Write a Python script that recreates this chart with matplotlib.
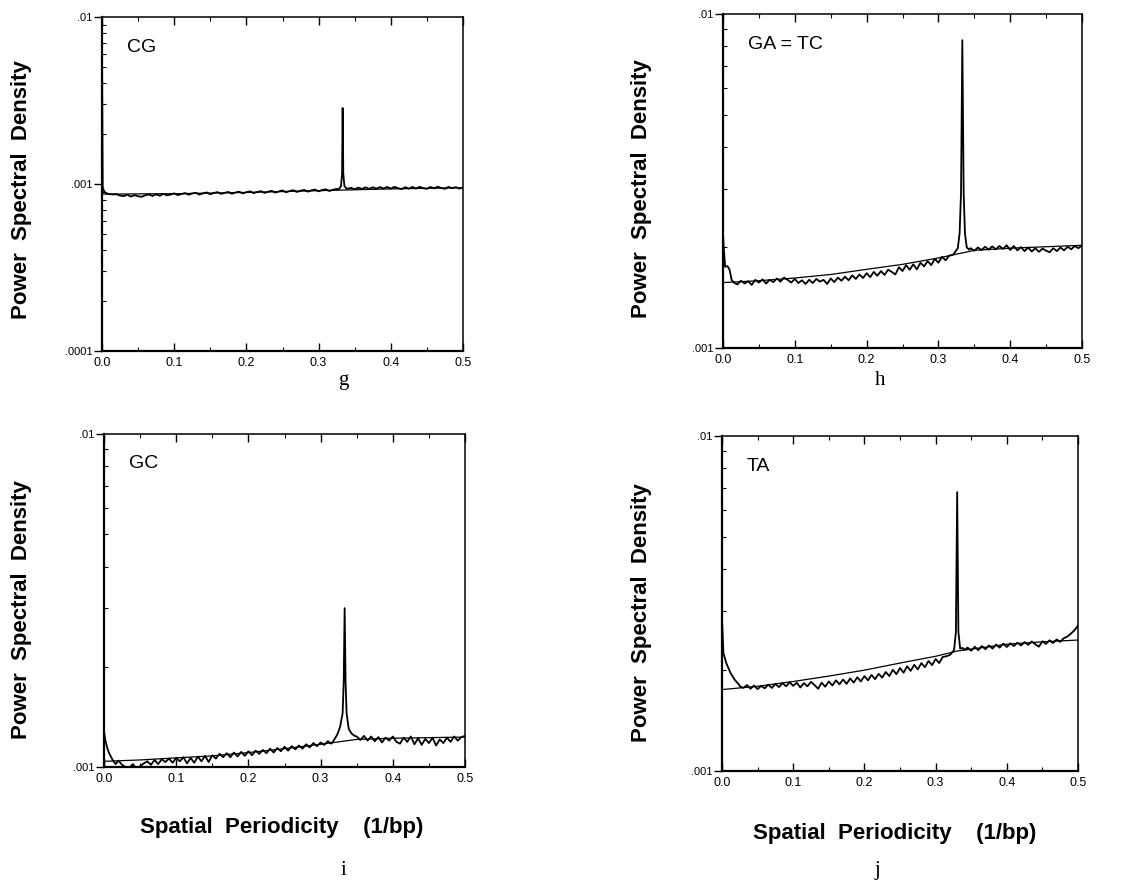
"""
Power spectral density of dinucleotide spacing (panels g-j).
Values read off the scanned figure, in units of 1e-3.
"""
import numpy as np
import matplotlib
matplotlib.use('Agg')
import matplotlib.pyplot as plt
from matplotlib.ticker import FixedLocator, FixedFormatter, MultipleLocator, NullFormatter, LogLocator

#-----------------------------------------------------------------------------
## Data (PSD x 1e-3)
#-----------------------------------------------------------------------------
# common frequency grid for the noisy traces (1/bp)
GRID = np.round(np.arange(0.02, 0.5001, 0.005), 3)

# --- g : CG
g_smooth_x = [0.0, 0.1, 0.2, 0.3, 0.4, 0.5]
g_smooth_y = [0.87, 0.875, 0.89, 0.912, 0.935, 0.95]
g_head_x = [0.0, 0.001, 0.003, 0.006, 0.01, 0.015]
g_head_y = [6.3, 0.96, 0.9, 0.88, 0.87, 0.866]
g_peak_x = [0.328, 0.331, 0.3325, 0.3333, 0.3342, 0.3358, 0.339]
g_peak_y = [0.93, 0.97, 1.15, 2.85, 1.15, 0.97, 0.935]
g_noise_y = [0.868, 0.852, 0.846, 0.862, 0.841, 0.858, 0.845, 0.838, 0.856, 0.866,
             0.848, 0.868, 0.85, 0.874, 0.855, 0.864, 0.879, 0.858, 0.87, 0.882,
             0.862, 0.878, 0.885, 0.864, 0.879, 0.89, 0.868, 0.884, 0.894, 0.872,
             0.886, 0.896, 0.874, 0.89, 0.9, 0.878, 0.893, 0.904, 0.882, 0.896,
             0.906, 0.884, 0.899, 0.91, 0.888, 0.903, 0.915, 0.892, 0.908, 0.918,
             0.896, 0.912, 0.922, 0.9, 0.916, 0.926, 0.904, 0.921, 0.93, 0.908,
             0.924, 0.934, 0.93, 0.935, 0.938, 0.948, 0.93, 0.952, 0.934, 0.955,
             0.935, 0.956, 0.938, 0.958, 0.94, 0.96, 0.938, 0.962, 0.944, 0.932,
             0.957, 0.938, 0.96, 0.94, 0.962, 0.944, 0.935, 0.96, 0.941, 0.964,
             0.945, 0.936, 0.961, 0.942, 0.958, 0.938, 0.952]

# --- h : GA = TC
h_smooth_x = [0.0, 0.05, 0.1, 0.15, 0.2, 0.25, 0.3, 0.35, 0.4, 0.45, 0.5]
h_smooth_y = [1.57, 1.59, 1.62, 1.66, 1.72, 1.78, 1.86, 1.96, 1.99, 2.01, 2.03]
h_head_x = [0.0, 0.001, 0.003, 0.006, 0.009, 0.012, 0.016]
h_head_y = [2.2, 2.0, 1.75, 1.76, 1.72, 1.6, 1.565]
h_peak_x = [0.322, 0.327, 0.3295, 0.3315, 0.3333, 0.3352, 0.337, 0.3395, 0.343]
h_peak_y = [1.92, 1.99, 2.2, 2.9, 8.35, 2.9, 2.2, 2.0, 1.97]
h_noise_y = [1.55, 1.59, 1.56, 1.585, 1.545, 1.6, 1.57, 1.605, 1.56, 1.6,
             1.575, 1.615, 1.58, 1.625, 1.6, 1.57, 1.61, 1.565, 1.595, 1.555,
             1.6, 1.565, 1.61, 1.58, 1.6, 1.555, 1.615, 1.575, 1.625, 1.59,
             1.635, 1.595, 1.65, 1.61, 1.66, 1.62, 1.675, 1.63, 1.69, 1.645,
             1.7, 1.655, 1.715, 1.69, 1.66, 1.745, 1.7, 1.77, 1.715, 1.78,
             1.72, 1.8, 1.755, 1.82, 1.77, 1.85, 1.8, 1.875, 1.83, 1.89,
             1.9, 1.94, 1.95, 1.96, 1.97, 1.99, 1.955, 2.0, 1.965, 2.01,
             1.97, 2.015, 1.975, 2.02, 1.98, 2.03, 1.965, 2.02, 1.96, 2.005,
             1.95, 2.0, 1.945, 1.99, 1.94, 1.985, 1.955, 1.935, 1.99, 1.95,
             2.0, 1.96, 2.01, 1.975, 2.02, 1.99, 2.03]

# --- i : GC
i_smooth_x = [0.0, 0.05, 0.1, 0.15, 0.2, 0.25, 0.3, 0.35, 0.4, 0.5]
i_smooth_y = [1.04, 1.05, 1.065, 1.08, 1.105, 1.135, 1.17, 1.21, 1.22, 1.23]
i_head_x = [0.0, 0.002, 0.005, 0.008, 0.012, 0.016]
i_head_y = [1.28, 1.2, 1.13, 1.09, 1.05, 1.02]
i_peak_x = [0.318, 0.323, 0.327, 0.3305, 0.332, 0.3333, 0.3346, 0.336, 0.339, 0.343, 0.347]
i_peak_y = [1.2, 1.25, 1.32, 1.45, 1.8, 3.0, 1.8, 1.45, 1.3, 1.26, 1.24]
i_noise_y = [1.045, 1.015, 1.0, 0.995, 1.02, 0.99, 1.005, 1.025, 1.04, 1.015,
             1.05, 1.02, 1.055, 1.035, 1.06, 1.03, 1.065, 1.04, 1.07, 1.025,
             1.065, 1.03, 1.075, 1.04, 1.08, 1.035, 1.085, 1.06, 1.095, 1.07,
             1.1, 1.07, 1.105, 1.075, 1.11, 1.08, 1.115, 1.085, 1.12, 1.095,
             1.125, 1.1, 1.135, 1.105, 1.14, 1.115, 1.15, 1.12, 1.155, 1.13,
             1.16, 1.135, 1.17, 1.145, 1.18, 1.155, 1.185, 1.165, 1.195, 1.175,
             1.2, 1.23, 1.3, 1.3, 1.28, 1.25, 1.235, 1.205, 1.24, 1.2,
             1.235, 1.195, 1.23, 1.185, 1.225, 1.2, 1.235, 1.19, 1.175, 1.225,
             1.19, 1.235, 1.17, 1.22, 1.165, 1.215, 1.18, 1.225, 1.16, 1.21,
             1.18, 1.225, 1.19, 1.235, 1.2, 1.23, 1.24]

# --- j : TA
j_smooth_x = [0.0, 0.05, 0.1, 0.15, 0.2, 0.25, 0.3, 0.33, 0.4, 0.45, 0.5]
j_smooth_y = [1.75, 1.79, 1.85, 1.92, 2.0, 2.1, 2.2, 2.28, 2.39, 2.43, 2.46]
j_head_x = [0.0, 0.002, 0.006, 0.012, 0.018, 0.024]
j_head_y = [2.85, 2.25, 2.1, 1.96, 1.87, 1.81]
j_peak_x = [0.322, 0.326, 0.3285, 0.3303, 0.332, 0.3345, 0.338]
j_peak_y = [2.24, 2.3, 2.6, 6.8, 2.6, 2.32, 2.33]
j_noise_y = [1.82, 1.79, 1.77, 1.805, 1.76, 1.8, 1.755, 1.795, 1.765, 1.81,
             1.77, 1.82, 1.78, 1.83, 1.79, 1.84, 1.795, 1.835, 1.775, 1.83,
             1.79, 1.845, 1.805, 1.76, 1.835, 1.785, 1.85, 1.8, 1.865, 1.815,
             1.875, 1.82, 1.89, 1.835, 1.905, 1.85, 1.92, 1.865, 1.935, 1.88,
             1.95, 1.9, 1.975, 1.92, 2.005, 1.945, 2.03, 1.965, 2.055, 1.99,
             2.075, 2.01, 2.1, 2.04, 2.13, 2.07, 2.16, 2.1, 2.19, 2.2,
             2.22, 2.28, 2.3, 2.3, 2.3, 2.335, 2.285, 2.35, 2.295, 2.36,
             2.31, 2.37, 2.32, 2.385, 2.335, 2.4, 2.345, 2.405, 2.36, 2.415,
             2.37, 2.425, 2.38, 2.435, 2.39, 2.35, 2.44, 2.395, 2.455, 2.41,
             2.47, 2.43, 2.49, 2.52, 2.57, 2.63, 2.72]

labels = ['CG', 'GA = TC', 'GC', 'TA']
letters = ['g', 'h', 'i', 'j']
ylims = [(1e-4, 1e-2), (1e-3, 1e-2), (1e-3, 1e-2), (1e-3, 1e-2)]
ytick_vals = [[1e-4, 1e-3, 1e-2], [1e-3, 1e-2], [1e-3, 1e-2], [1e-3, 1e-2]]
ytick_txt = [['.0001', '.001', '.01'], ['.001', '.01'], ['.001', '.01'], ['.001', '.01']]
xtick_vals = [0.0, 0.1, 0.2, 0.3, 0.4, 0.5]
xtick_txt = ['0.0', '0.1', '0.2', '0.3', '0.4', '0.5']


def trace(head_x, head_y, noise_y, peak_x, peak_y):
    noise_y = np.asarray(noise_y)
    pre = (GRID > head_x[-1]) & (GRID < peak_x[0])
    post = GRID > peak_x[-1]
    x = np.concatenate([head_x, GRID[pre], peak_x, GRID[post]])
    y = np.concatenate([head_y, noise_y[pre], peak_y, noise_y[post]])
    return x, y * 1e-3


panels = [
    (g_smooth_x, g_smooth_y, trace(g_head_x, g_head_y, g_noise_y, g_peak_x, g_peak_y)),
    (h_smooth_x, h_smooth_y, trace(h_head_x, h_head_y, h_noise_y, h_peak_x, h_peak_y)),
    (i_smooth_x, i_smooth_y, trace(i_head_x, i_head_y, i_noise_y, i_peak_x, i_peak_y)),
    (j_smooth_x, j_smooth_y, trace(j_head_x, j_head_y, j_noise_y, j_peak_x, j_peak_y)),
]

#-----------------------------------------------------------------------------
## Figure
#-----------------------------------------------------------------------------
plt.rcParams['font.family'] = ['Liberation Sans', 'DejaVu Sans']
fig = plt.figure(figsize=(11.34, 8.88), dpi=100)

W, H = 1134., 888.
# axes boxes in pixels: left, top, right, bottom
boxes = [(102, 17, 463, 351), (723, 14, 1082, 348),
         (104, 434, 465, 767), (722, 436, 1078, 771)]

for k, ((sx, sy, (nx, ny)), box) in enumerate(zip(panels, boxes)):
    l, t, r, b = box
    ax = fig.add_axes([l / W, 1 - b / H, (r - l) / W, (b - t) / H])
    ax.plot(sx, np.asarray(sy) * 1e-3, color='black', lw=0.9)
    ax.plot(nx, ny, color='black', lw=1.3)
    ax.set_yscale('log')
    ax.set_xlim(0, 0.5)
    ax.set_ylim(*ylims[k])
    ax.yaxis.set_major_locator(FixedLocator(ytick_vals[k]))
    ax.yaxis.set_major_formatter(FixedFormatter(ytick_txt[k]))
    ax.yaxis.set_minor_locator(LogLocator(base=10, subs=np.arange(2, 10)))
    ax.yaxis.set_minor_formatter(NullFormatter())
    ax.xaxis.set_major_locator(FixedLocator(xtick_vals))
    ax.xaxis.set_major_formatter(FixedFormatter(xtick_txt))
    ax.xaxis.set_minor_locator(MultipleLocator(0.05))
    ax.tick_params(axis='y', which='major', direction='out', length=6, width=1,
                   labelsize=8, pad=1, right=False)
    ax.tick_params(axis='y', which='minor', direction='in', length=3, width=0.8, right=False)
    ax.tick_params(axis='x', which='major', direction='in', length=6, width=1,
                   labelsize=9, pad=4, top=True)
    ax.tick_params(axis='x', which='minor', direction='in', length=3, width=0.8, top=True)
    for side in ['left', 'bottom']:
        ax.spines[side].set_linewidth(1.6)
    for side in ['top', 'right']:
        ax.spines[side].set_linewidth(1.1)
    ax.text(0.07, 0.91, labels[k], transform=ax.transAxes, fontsize=14, ha='left', va='center')

# y labels
for x, y in [(22, 190), (641, 189), (22, 610), (641, 613)]:
    fig.text(x / W, 1 - y / H, 'Power  Spectral  Density', rotation=90, fontsize=16,
             fontweight='bold', ha='center', va='center')
# x labels on the lower panels
for x, y in [(282, 827), (895, 833)]:
    fig.text(x / W, 1 - y / H, 'Spatial  Periodicity    (1/bp)', fontsize=16,
             fontweight='bold', ha='center', va='center')
# panel letters
for let, (x, y) in zip(letters, [(343, 380), (880, 380), (343, 870), (877, 870)]):
    fig.text(x / W, 1 - y / H, let, fontsize=15, family='Liberation Serif',
             ha='center', va='center')

plt.savefig('out.png', dpi=100, facecolor='w')
